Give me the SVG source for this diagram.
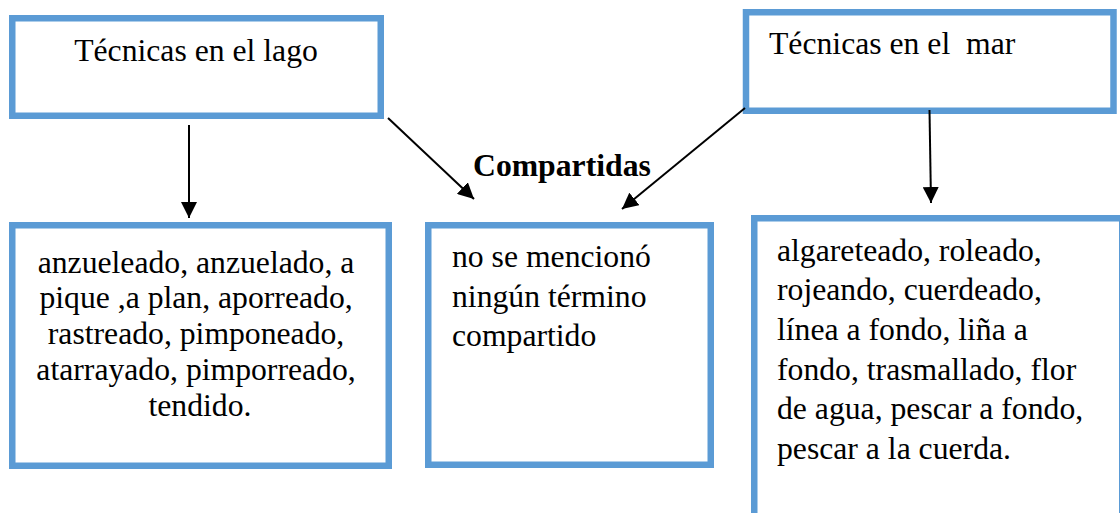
<svg xmlns="http://www.w3.org/2000/svg" width="1120" height="513" viewBox="0 0 1120 513">
  <style>
    .box { fill: #ffffff; stroke: #5B9BD5; stroke-width: 6.5; }
    .t { font-family: "Liberation Serif", "Times New Roman", serif; font-size: 31.7px; fill: #000000; }
    .c { text-anchor: middle; }
    .b { font-weight: bold; }
    .conn { stroke: #000000; stroke-width: 2; fill: none; marker-end: url(#arrow); }
  </style>
  <defs>
    <marker id="arrow" markerUnits="userSpaceOnUse" markerWidth="17" markerHeight="16" refX="16" refY="8" orient="auto">
      <path d="M0,0 L16,8 L0,16 z" fill="#000000"/>
    </marker>
  </defs>
  <rect width="1120" height="513" fill="#ffffff"/>

  <g id="lago">
    <rect class="box" x="12.25" y="18.25" width="368.5" height="97.5"/>
    <text class="t c" x="196" y="61">Técnicas en el lago</text>
  </g>

  <g id="mar">
    <rect class="box" x="746" y="12.25" width="367.5" height="98.5"/>
    <text class="t" x="769" y="54" style="white-space:pre">Técnicas en el  mar</text>
  </g>

  <g id="compartidas-label">
    <text class="t b" x="473" y="176">Compartidas</text>
  </g>

  <g id="lago-lista">
    <rect class="box" x="12.25" y="225.25" width="376.5" height="240.5"/>
    <text class="t c" x="200">
      <tspan x="200" y="272.5">anzueleado, anzuelado, a</tspan>
      <tspan x="200" y="308.3">pique ,a plan, aporreado,</tspan>
      <tspan x="200" y="344.1">rastreado, pimponeado,</tspan>
      <tspan x="200" y="379.9">atarrayado, pimporreado,</tspan>
      <tspan x="200" y="415.7">tendido.</tspan>
    </text>
  </g>

  <g id="compartidas-lista">
    <rect class="box" x="428.25" y="225.25" width="282.5" height="239.5"/>
    <text class="t">
      <tspan x="452" y="267.3">no se mencionó</tspan>
      <tspan x="452" y="306.7">ningún término</tspan>
      <tspan x="452" y="346.1">compartido</tspan>
    </text>
  </g>

  <g id="mar-lista">
    <rect class="box" x="754.25" y="218.25" width="368" height="320"/>
    <text class="t">
      <tspan x="777" y="260.5">algareteado, roleado,</tspan>
      <tspan x="777" y="300.2">rojeando, cuerdeado,</tspan>
      <tspan x="777" y="339.9">línea a fondo, liña a</tspan>
      <tspan x="777" y="379.6">fondo, trasmallado, flor</tspan>
      <tspan x="777" y="419.3">de agua, pescar a fondo,</tspan>
      <tspan x="777" y="459">pescar a la cuerda.</tspan>
    </text>
  </g>

  <g id="connectors">
    <line class="conn" x1="189" y1="125" x2="189" y2="218"/>
    <line class="conn" x1="388" y1="118" x2="474" y2="199"/>
    <line class="conn" x1="745" y1="108" x2="622" y2="209"/>
    <line class="conn" x1="929.5" y1="110" x2="931" y2="203"/>
  </g>
</svg>
